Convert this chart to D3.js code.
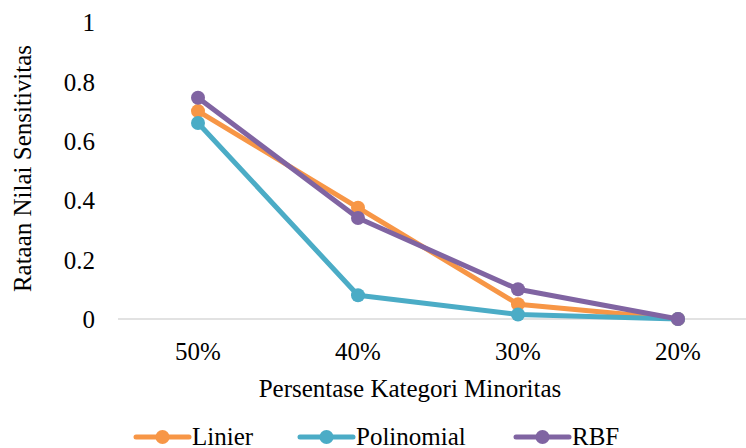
<!DOCTYPE html>
<html>
<head>
<meta charset="utf-8">
<script src="https://cdn.jsdelivr.net/npm/d3@7/dist/d3.min.js"></script>
</head>
<body style="margin:0">
<svg id="chart" width="746" height="448" style="display:block;background:#fff"></svg>
<script>
// Categories on the x axis
const categories = ["50%", "40%", "30%", "20%"];
// Mean sensitivity per kernel
const linier     = [0.70, 0.375, 0.05, 0.0];
const polinomial = [0.66, 0.08, 0.015, 0.0];
const rbf        = [0.745, 0.34, 0.10, 0.0];
const seriesNames = ["Linier", "Polinomial", "RBF"];
const yTicks = [0, 0.2, 0.4, 0.6, 0.8, 1];

const FONT = '"Liberation Serif"';
const FS = 25;

const colors = { Linier: "#F79646", Polinomial: "#4BACC6", RBF: "#8064A2" };
const series = [
  { name: "Linier", values: linier },
  { name: "Polinomial", values: polinomial },
  { name: "RBF", values: rbf }
];

const svg = d3.select("#chart").style("font-family", FONT, "important");
const plotLeft = 118, plotRight = 758, plotTop = 22, plotBottom = 319;

const x = d3.scaleBand().domain(categories).range([plotLeft, plotRight]);
const y = d3.scaleLinear().domain([0, 1]).range([plotBottom, plotTop]);

function styleText(sel) {
  sel.style("font-family", FONT, "important").attr("font-size", FS).attr("fill", "#000");
}

// Baseline at zero
svg.append("line")
  .attr("x1", plotLeft).attr("x2", plotRight)
  .attr("y1", y(0)).attr("y2", y(0))
  .attr("stroke", "#d9d9d9").attr("stroke-width", 1.5);

// Y axis labels
const yAxis = d3.axisLeft(y).tickValues(yTicks).tickSize(0).tickPadding(0)
  .tickFormat(d => d3.format("")(d));
const gy = svg.append("g").attr("transform", `translate(95,0)`).call(yAxis);
gy.attr("font-family", null).attr("font-size", null);
gy.select(".domain").remove();
gy.selectAll("text").call(styleText).attr("dy", "0.35em");

// X axis labels
const xAxis = d3.axisBottom(x).tickSize(0).tickPadding(0);
const gx = svg.append("g").attr("transform", `translate(0,${plotBottom + 32})`).call(xAxis);
gx.attr("font-family", null).attr("font-size", null);
gx.select(".domain").remove();
gx.selectAll("text").call(styleText).attr("dy", "0.35em");

// Axis titles
svg.append("text")
  .attr("x", 410).attr("y", 388).attr("dy", "0.35em")
  .attr("text-anchor", "middle")
  .call(styleText).text("Persentase Kategori Minoritas");

svg.append("text")
  .attr("transform", `translate(22,${(plotTop + plotBottom) / 2 - 2}) rotate(-90)`)
  .attr("text-anchor", "middle").attr("dy", "0.35em")
  .call(styleText).text("Rataan Nilai Sensitivitas");

// Lines and markers
const line = d3.line()
  .x((d, i) => x(categories[i]) + x.bandwidth() / 2)
  .y(d => y(d));

series.forEach(s => {
  const g = svg.append("g");
  g.append("path")
    .attr("d", line(s.values))
    .attr("fill", "none")
    .attr("stroke", colors[s.name])
    .attr("stroke-width", 5)
    .attr("stroke-linejoin", "round")
    .attr("stroke-linecap", "round");
  g.selectAll("circle").data(s.values).join("circle")
    .attr("cx", (d, i) => x(categories[i]) + x.bandwidth() / 2)
    .attr("cy", d => y(d))
    .attr("r", 7)
    .attr("fill", colors[s.name]);
});

// Legend
const legendItems = [
  { name: "Linier", x0: 136 },
  { name: "Polinomial", x0: 300 },
  { name: "RBF", x0: 516 }
];
const legendY = 437;
legendItems.forEach(it => {
  const g = svg.append("g");
  g.append("line")
    .attr("x1", it.x0).attr("x2", it.x0 + 53)
    .attr("y1", legendY).attr("y2", legendY)
    .attr("stroke", colors[it.name]).attr("stroke-width", 5)
    .attr("stroke-linecap", "round");
  g.append("circle")
    .attr("cx", it.x0 + 26.5).attr("cy", legendY).attr("r", 7)
    .attr("fill", colors[it.name]);
  g.append("text")
    .attr("x", it.x0 + 56).attr("y", legendY).attr("dy", "0.3em")
    .call(styleText).text(it.name);
});
</script>
</body>
</html>
